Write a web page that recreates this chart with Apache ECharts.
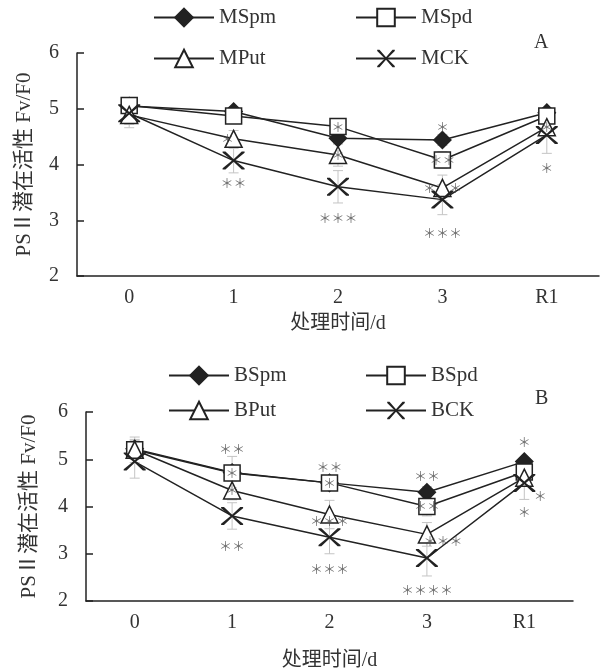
<!DOCTYPE html>
<html>
<head>
<meta charset="utf-8">
<script src="https://cdn.jsdelivr.net/npm/echarts@6/dist/echarts.min.js"></script>
<style>
  html, body { margin: 0; padding: 0; background: #fff; }
  #chart { width: 608px; height: 672px; }
</style>
</head>
<body>
<div id="chart"></div>
<script>
/* Fv/F0 of PSII — panel A (M*) and panel B (B*) */

const days = ["0", "1", "2", "3", "R1"];

// panel A
const MSpm = [5.05, 4.95, 4.47, 4.44, 4.93];
const MSpd = [5.06, 4.87, 4.68, 4.08, 4.87];
const MPut = [4.89, 4.46, 4.17, 3.58, 4.67];
const MCK  = [4.92, 4.07, 3.60, 3.37, 4.53];
const MSpmErr = [0.08, 0.08, 0.10, 0.10, 0.08];
const MSpdErr = [0.10, 0.10, 0.12, 0.15, 0.10];
const MPutErr = [0.23, 0.15, 0.20, 0.23, 0.15];
const MCKErr  = [0.20, 0.22, 0.29, 0.27, 0.33];
// [day index, y, text, side]
const starsA = [
  [1, 4.46, "＊", "l"], [1, 3.67, "＊＊", "c"],
  [2, 4.68, "＊", "c"], [2, 4.17, "＊", "c"], [2, 3.04, "＊＊＊", "c"],
  [3, 4.67, "＊", "c"], [3, 4.08, "＊＊", "c"], [3, 3.58, "＊　＊", "c"], [3, 2.77, "＊＊＊", "c"],
  [4, 4.67, "＊", "c"], [4, 3.94, "＊", "c"],
];

// panel B
const BSpm = [5.22, 4.72, 4.50, 4.30, 4.95];
const BSpd = [5.20, 4.71, 4.50, 4.00, 4.73];
const BPut = [5.20, 4.34, 3.83, 3.41, 4.61];
const BCK  = [4.95, 3.80, 3.35, 2.91, 4.50];
const BSpmErr = [0.20, 0.10, 0.10, 0.12, 0.08];
const BSpdErr = [0.27, 0.35, 0.15, 0.20, 0.12];
const BPutErr = [0.20, 0.20, 0.30, 0.25, 0.15];
const BCKErr  = [0.35, 0.28, 0.35, 0.38, 0.35];
const starsB = [
  [1, 5.22, "＊＊", "c"], [1, 4.71, "＊", "c"], [1, 4.34, "＊", "c"], [1, 3.16, "＊＊", "c"],
  [2, 4.84, "＊＊", "c"], [2, 4.50, "＊", "c"], [2, 3.70, "＊＊＊", "c"], [2, 2.67, "＊＊＊", "c"],
  [3, 4.65, "＊＊", "c"], [3, 4.00, "＊＊", "c"], [3, 3.26, "＊＊＊", "r"], [3, 2.24, "＊＊＊＊", "c"],
  [4, 5.37, "＊", "c"], [4, 4.23, "＊", "r"], [4, 3.88, "＊", "c"],
];

const INK = "#222";
const TXT = "#333";
const SERIF = "'Liberation Serif', 'Noto Sans CJK SC', serif";
const CROSS = "path://M0,0 L1.3,0 L5,4.3 L8.7,0 L10,0 L10,0.7 L5.7,5 L10,9.3 L10,10 L8.7,10 L5,5.7 L1.3,10 L0,10 L0,9.3 L4.3,5 L0,0.7 Z";

const SYMBOLS = {
  pm:  { symbol: "diamond",  size: 17, fill: INK },
  pd:  { symbol: "rect",     size: 16, fill: "#fff" },
  put: { symbol: "triangle", size: 17, fill: "#fff" },
  ck:  { symbol: CROSS,      size: [22, 18], fill: INK, border: 0 },
};

function lineSeries(name, data, kind, idx) {
  const s = SYMBOLS[kind];
  return {
    name, type: "line", xAxisIndex: idx, yAxisIndex: idx, data,
    symbol: s.symbol, symbolSize: s.size, showAllSymbol: true, z: 3,
    lineStyle: { color: INK, width: 1.5 },
    itemStyle: { color: s.fill, borderColor: INK, borderWidth: s.border === 0 ? 0 : 1.5 },
    emphasis: { disabled: true },
    animation: false,
  };
}

function errSeries(vals, errs, idx) {
  return {
    type: "custom", xAxisIndex: idx, yAxisIndex: idx, z: 1, silent: true,
    data: vals.map((v, i) => [i, v - errs[i], v + errs[i]]),
    encode: { x: 0, y: [1, 2] },
    renderItem: (params, api) => {
      const hi = api.coord([api.value(0), api.value(2)]);
      const lo = api.coord([api.value(0), api.value(1)]);
      const st = { stroke: "#c4c4c4", lineWidth: 1 };
      return { type: "group", children: [
        { type: "line", shape: { x1: hi[0], y1: hi[1], x2: lo[0], y2: lo[1] }, style: st },
        { type: "line", shape: { x1: hi[0] - 5, y1: hi[1], x2: hi[0] + 5, y2: hi[1] }, style: st },
        { type: "line", shape: { x1: lo[0] - 5, y1: lo[1], x2: lo[0] + 5, y2: lo[1] }, style: st },
      ]};
    },
    animation: false,
  };
}

function starSeries(stars, idx) {
  const shift = { l: [-6, 0], c: [0, 0], r: [16, 0] };
  return {
    type: "scatter", xAxisIndex: idx, yAxisIndex: idx, z: 6, silent: true,
    symbolSize: 1, itemStyle: { color: "transparent" },
    data: stars.map(([d, y, t, side]) => ({
      value: [d, y, t],
      label: { offset: shift[side] },
    })),
    label: {
      show: true, position: "inside", formatter: p => p.data.value[2],
      fontFamily: "'Noto Sans CJK SC'", fontSize: 13, color: "#4a4a4a",
    },
    animation: false,
  };
}

function xAxis(idx, nameGap) {
  return {
    type: "category", gridIndex: idx, data: days, boundaryGap: true,
    axisLine: { lineStyle: { color: INK, width: 1.5 } },
    axisTick: { inside: true, length: 7, interval: 0, lineStyle: { color: INK, width: 1.5 } },
    axisLabel: { fontFamily: SERIF, fontSize: 20, color: TXT, margin: 12 },
    splitLine: { show: false },
    name: "处理时间/d", nameLocation: "middle", nameGap,
    nameTextStyle: { fontFamily: SERIF, fontSize: 20, color: TXT },
  };
}

function yAxis(idx, nameGap) {
  return {
    type: "value", gridIndex: idx, min: 2, max: 6, interval: 1,
    axisLine: { show: true, lineStyle: { color: INK, width: 1.5 } },
    axisTick: { show: true, inside: true, length: 7, lineStyle: { color: INK, width: 1.5 } },
    axisLabel: { fontFamily: SERIF, fontSize: 20, color: TXT, margin: 18 },
    splitLine: { show: false },
    name: "PSⅡ潜在活性 Fv/F0", nameLocation: "middle", nameRotate: 90, nameGap,
    nameTextStyle: { fontFamily: SERIF, fontSize: 21, color: TXT },
  };
}

function legend(name, left, centerY) {
  return {
    data: [name], left, top: centerY - 12, padding: 0,
    itemWidth: 60, itemHeight: 22, itemGap: 6,
    textStyle: { fontFamily: SERIF, fontSize: 21, color: TXT },
    selectedMode: false,
  };
}

const chart = echarts.init(document.getElementById("chart"), null, { renderer: "canvas" });
chart.setOption({
  backgroundColor: "#fff",
  animation: false,
  title: [
    { text: "A", left: 529, top: 28, textStyle: { fontFamily: SERIF, fontSize: 20, fontWeight: "normal", color: TXT } },
    { text: "B", left: 530, top: 384, textStyle: { fontFamily: SERIF, fontSize: 20, fontWeight: "normal", color: TXT } },
  ],
  legend: [
    legend("MSpm", 153, 19), legend("MSpd", 355, 19),
    legend("MPut", 153, 60), legend("MCK", 355, 60),
    legend("BSpm", 168, 377), legend("BSpd", 365, 377),
    legend("BPut", 168, 412), legend("BCK", 365, 412),
  ],
  grid: [
    { left: 77, right: 9, top: 53, bottom: 396 },
    { left: 86, right: 35, top: 412, bottom: 70 },
  ],
  xAxis: [xAxis(0, 38), xAxis(1, 50)],
  yAxis: [yAxis(0, 42), yAxis(1, 46)],
  series: [
    errSeries(MSpm, MSpmErr, 0), errSeries(MSpd, MSpdErr, 0),
    errSeries(MPut, MPutErr, 0), errSeries(MCK, MCKErr, 0),
    lineSeries("MSpm", MSpm, "pm", 0), lineSeries("MSpd", MSpd, "pd", 0),
    lineSeries("MPut", MPut, "put", 0), lineSeries("MCK", MCK, "ck", 0),
    starSeries(starsA, 0),
    errSeries(BSpm, BSpmErr, 1), errSeries(BSpd, BSpdErr, 1),
    errSeries(BPut, BPutErr, 1), errSeries(BCK, BCKErr, 1),
    lineSeries("BSpm", BSpm, "pm", 1), lineSeries("BSpd", BSpd, "pd", 1),
    lineSeries("BPut", BPut, "put", 1), lineSeries("BCK", BCK, "ck", 1),
    starSeries(starsB, 1),
  ],
});
</script>
</body>
</html>
